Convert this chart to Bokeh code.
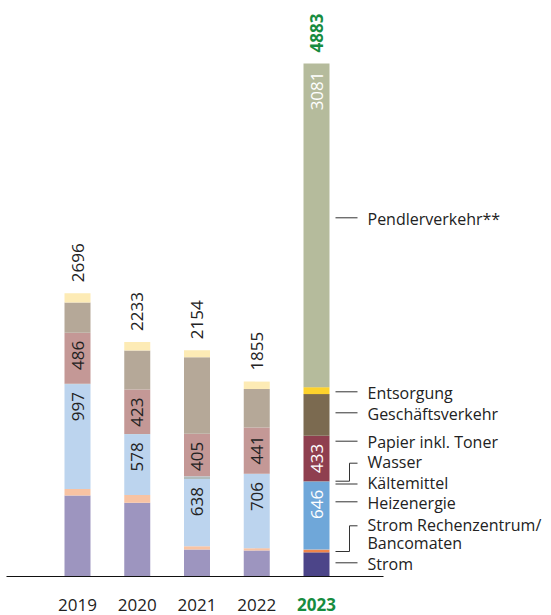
import numpy as np
from bokeh.plotting import figure
from bokeh.models import Range1d, ColumnDataSource
from bokeh.core.properties import value
from bokeh.embed import file_html
from bokeh.resources import INLINE

# ---- data (t CO2e per category and year) ----
years = ["2019", "2020", "2021", "2022", "2023"]
strom = [770, 703, 257, 248, 230]
strom_rz = [64, 73, 32, 22, 26]
heizenergie = [997, 578, 638, 706, 646]
kaeltemittel = [0, 0, 25, 0, 3]
wasser = [3, 2, 2, 2, 2]
papier = [486, 423, 405, 441, 433]
geschaeftsverkehr = [287, 371, 728, 366, 396]
entsorgung = [89, 83, 67, 70, 66]
pendlerverkehr = [0, 0, 0, 0, 3081]

series = [strom, strom_rz, heizenergie, kaeltemittel, wasser,
          papier, geschaeftsverkehr, entsorgung, pendlerverkehr]
legend_names = ["Strom", "Strom Rechenzentrum/\nBancomaten", "Heizenergie",
                "Kältemittel", "Wasser", "Papier inkl. Toner",
                "Geschäftsverkehr", "Entsorgung", "Pendlerverkehr**"]
labelled = [2, 5, 8]   # series whose values are written on the bars

# muted tones for earlier years, strong tones for the current year
pale = ["#9d95bf", "#f8c3a3", "#bcd4ee", "#b0bcbc", "#9fc0d0",
        "#c49896", "#b5a898", "#fdebb5", "#d6d9c6"]
strong = ["#4c4589", "#f0854a", "#6fa7d9", "#7f8f8f", "#3f86a8",
          "#8f3f4f", "#7b6a50", "#fdd22c", "#b5bb9c"]

FONT = "Open Sans"
TXT = "#222222"
GREEN = "#178c3f"

# ---- page geometry ----
W, H = 551, 615
BASE_PX = 576          # baseline row
PX_PER_UNIT = 0.10506  # vertical scale
X0_PX, STEP_PX = 77, 59.75
BAR_PX = 26


def fx(px):
    return (px - X0_PX) / STEP_PX


def fy(py):
    return (BASE_PX - py) / PX_PER_UNIT


p = figure(width=W, height=H, min_border=0, output_backend="svg",
           toolbar_location=None, x_axis_type=None, y_axis_type=None,
           x_range=Range1d(fx(0), fx(W)), y_range=Range1d(fy(H), fy(0)))
p.grid.visible = False
p.outline_line_color = None
p.background_fill_color = "white"
p.border_fill_color = "white"

n = len(years)
xs = list(range(n))
cur = n - 1
bottom = np.zeros(n)
tops = []
for k, vals in enumerate(series):
    v = np.array(vals, dtype=float)
    colors = [strong[k] if i == cur else pale[k] for i in xs]
    src = ColumnDataSource(dict(x=xs, bottom=bottom, top=bottom + v, c=colors))
    p.vbar(x="x", bottom="bottom", top="top", width=BAR_PX / STEP_PX,
           fill_color="c", line_color=None, source=src)
    tops.append(bottom + v)
    bottom = bottom + v
totals = bottom

# baseline
p.line(x=[fx(6), fx(383)], y=[0, 0], line_color="#111111", line_width=1.2)

# values written inside the segments (rotated, near the segment top)
lx, ly, lt, lc = [], [], [], []
for k in labelled:
    for i in xs:
        if series[k][i] > 0:
            lx.append(i)
            ly.append(tops[k][i] - 8 / PX_PER_UNIT)
            lt.append(str(series[k][i]))
            lc.append("white" if i == cur else TXT)
p.text(x=lx, y=ly, text=lt, text_color=lc, angle=np.pi / 2,
       text_align="right", text_baseline="middle",
       text_font=value(FONT), text_font_size="17px")

# totals above the bars
gap = 11 / PX_PER_UNIT
p.text(x=xs[:cur], y=list(totals[:cur] + gap),
       text=[str(int(t)) for t in totals[:cur]], text_color=TXT,
       angle=np.pi / 2, text_align="left", text_baseline="middle",
       text_font=value(FONT), text_font_size="17px")
p.text(x=[cur], y=[totals[cur] + gap], text=[str(int(totals[cur]))],
       text_color=GREEN, angle=np.pi / 2, text_align="left",
       text_baseline="middle", text_font=value(FONT),
       text_font_size="17px", text_font_style="bold")

# year labels
p.text(x=xs[:cur], y=[fy(604)] * cur, text=years[:cur], text_color=TXT,
       text_align="center", text_baseline="middle",
       text_font=value(FONT), text_font_size="17px")
p.text(x=[cur], y=[fy(604)], text=[years[cur]], text_color=GREEN,
       text_align="center", text_baseline="middle",
       text_font=value(FONT), text_font_size="17px", text_font_style="bold")

# legend on the right of the current-year bar
text_y_px = [563.3, (524.3, 542.7), 502.3, 482.0, 461.7, 441.7,
             413.3, 392.3, 218.3]
elbow = {1: 551.0, 4: 480.7}     # bracketed entries: start row of the bracket
LX0, LXM, LX1, TX = 335, 349, 357, 367
for k, name in enumerate(legend_names):
    ty = text_y_px[k]
    lines = name.split("\n")
    if isinstance(ty, tuple):
        rows = list(ty)
    else:
        rows = [ty]
    for row, s in zip(rows, lines):
        p.text(x=[fx(TX)], y=[fy(row)], text=[s], text_color=TXT,
               text_align="left", text_baseline="middle",
               text_font=value(FONT), text_font_size="16px")
    if k in elbow:
        y0 = elbow[k]
        y1 = rows[0] + 1
        p.line(x=[fx(LX0), fx(LXM), fx(LXM), fx(LX1)],
               y=[fy(y0), fy(y0), fy(y1), fy(y1)],
               line_color="#333333", line_width=1)
    else:
        yy = rows[0] + (1.5 if k == 3 else -1)
        p.line(x=[fx(LX0), fx(LX1)], y=[fy(yy), fy(yy)],
               line_color="#333333", line_width=1)

open("out.html", "w").write(file_html(p, INLINE))
